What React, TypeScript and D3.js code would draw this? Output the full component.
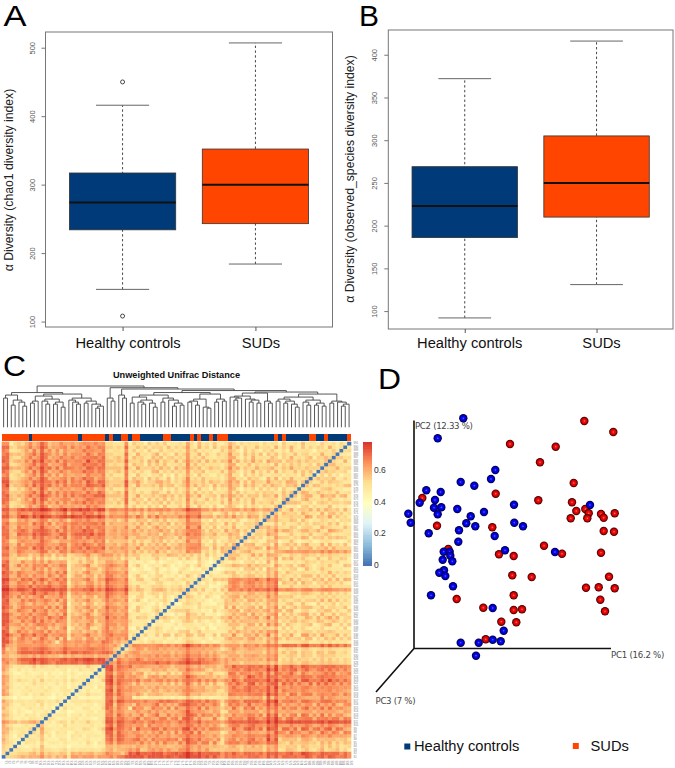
import * as d3 from 'd3'
import { useEffect, useRef } from 'react'

const groups = ['Healthy controls', 'SUDs']
const groupColors = ['#003a78', '#ff4500']

// whisker low, q1, median, q3, whisker high
const chao1Healthy = [147, 234, 274, 317, 416]
const chao1Suds = [184, 243, 300, 352, 507]
const chao1Outliers = [108, 450]
const chao1Ticks = [100, 200, 300, 400, 500]

const observedHealthy = [92, 186, 223, 269, 372]
const observedSuds = [131, 210, 250, 305, 416]
const observedTicks = [100, 150, 200, 250, 300, 350, 400]

// H = healthy, S = SUDs, sample order as in the dendrogram
const sampleGroups =
  'SSSSSSSHSS SSSSSSSSSS HSSSSSSHSH HSSHSSHHHH HHSSHHHHHS HSHHSHSSSH HHHHHHHHHH HSHSHHHHHH SSHHSHHHHH S'

// distance levels 0-9, lower triangle, row j holds samples 0..j-1
const distanceRows = [
  '',
  '1',
  '21',
  '322',
  '3221',
  '42110',
  '321021',
  '4311121',
  '33211102',
  '422101211',
  '5434233443',
  '3221010211 0',
  '4321102110 12',
  '3321210011 021',
  '4211101201 1010',
  '3321021110 20110',
  '4221110102 101120',
  '2110100011 0100110',
  '5421012011 21101011',
  '5311011201 021101120',
  '4421102101 1021011011',
  '5321010121 1101201010 1',
  '4311211010 2011101021 01',
  '5421101102 1012011010 110',
  '4321012101 1021101121 0101',
  '5311201011 0112011010 21021',
  '4321110120 1101210101 102110',
  '5645677887 8877887888 7888888',
  '6555788898 8878788889 89998986',
  '4434455454 5545434454 454545453',
  '6445788878 8787778788 7877777874',
  '7355788778 8877678877 7778877764 3',
  '7444555545 5544445545 4554555545 31',
  '8865665566 6565156656 6566657764 543',
  '8754675635 7645736145 5356454765 6561',
  '7865476575 5746565254 4564534675 56502',
  '8735756456 6475655144 5344635765 465210',
  '7845575664 5746467135 4563345856 5561031',
  '8756646457 6657455243 5465434766 46521013',
  '8865475675 7565765245 4446354765 565310120',
  '7745656465 5476575144 5355443856 4651022301',
  '8865465746 6745647243 4564345765 5562102310 2',
  '7645765475 5746466134 5346354756 4650230102 31',
  '8764576656 6475747235 4564534866 5561032102 201',
  '8855675465 5756467144 5355343765 4652102310 2031',
  '7845475765 5765746235 4564434756 5560231021 02310',
  '8765746456 7456575144 5345354865 4651023101 203102',
  '8866576786 6867586256 5566654876 5672213123 2132312',
  '9977887687 7889787466 6768675987 6783233213 34313232',
  '8856776857 6787677346 5567564876 5673231223 232132312',
  '8745766475 6476576145 4356453866 5662102310 2310221031',
  '8856476746 7646756244 4564354876 5561023102 2012301201 1',
  '7745756465 5476475135 5345353775 4650231021 2301120132 02',
  '8765765546 6465757234 3564434766 5561102310 2012103102 210',
  '7845465575 6475566144 4355634765 4652012102 3102102310 1032',
  '8735746466 5746576134 4563344676 5560231012 0132010120 23101',
  '7845475565 6476565233 5345343665 4561201310 2012310201 032101',
  '5534223142 4232312232 3243243443 4232131212 3120213132 1312023',
  '6633544233 5342434223 3453345553 4342321213 2224432313 12031211',
  '6645765546 7746476576 6756865445 4553524343 5342434365 652323143',
  '6735666476 7565756466 7576767354 4643352434 2435344356 6533142423',
  '6644746657 7656576467 6866576445 3553425343 4352435456 6631342232 4',
  '7634676656 8765465677 6755867354 4543524335 3524343475 5623141324 32',
  '6745656476 7566757467 7576776445 4563344534 3543425356 6532433114 243',
  '7744877687 8876687578 8879787455 4654543454 4254454576 7643453325 3413',
  '6635676467 7765746566 6867566345 3543524343 3534243456 6531423142 24231',
  '7644756556 8656467576 7576776445 4563353424 5342434375 5723241322 413232',
  '6745666476 7574656677 6767867354 4543425353 2435243466 6532433142 3213324',
  '6634657546 7746575467 7676676445 3563344524 4352434475 5523142323 14213242',
  '7755798687 9887788898 8788897465 5665465364 6454546576 6744525343 534253414',
  '6745766577 7765667476 6867575355 4563425344 2534454466 6633412342 3142433142',
  '7756787878 9987789788 9887898466 5665646465 5656555687 7655454534 4545454354 3',
  '6724435746 8746575665 6576865323 3362413242 3152324263 1423242135 3214233142 24',
  '7623345675 7465746567 6857676332 4371232413 2414233252 4231322415 2323142332 413',
  '7744246475 8746566746 5677766323 2472423142 3241423262 3124232316 1423242132 3214',
  '6733435746 8765646575 6756877333 3361241323 1342413253 2412331425 3241323142 24132',
  '7634345675 8575756676 6576686323 4372313224 3214232352 4132413225 1423213242 312423',
  '7723435746 9746575756 6857566342 2363412323 2413242353 1423142326 4213231423 2314213',
  '6824346475 7675646566 6577767323 3372142323 1423412352 4132142325 2314232141 42313242',
  '8844456577 8776867576 7587687433 3483453233 4534232463 3242534236 3524243335 324254423',
  '7723345746 8746566575 6867566323 3361423142 3214132362 3142323125 4231423114 2413242313',
  '6724435675 8575746656 6576767342 2372142313 2413142353 1423214236 2314232431 3241323242 3',
  '7633246475 8746575566 6867676323 4362313214 4132423252 3241322415 3213241323 1423214232 41',
  '7744435746 8675746765 6577676333 3372142323 1423142353 2312423126 2423214232 4123242313 232',
  '6723345675 7746567566 6867867323 2361423142 3241323262 4132323125 4132413232 1423232412 3142',
  '7624436476 8565746656 6586676332 3372213142 4132241353 2314232326 1423242314 3241322413 23213',
  '7733245746 8746575675 6767867323 4361423214 2413423252 3142213225 4213142231 4213242313 413242',
  '6744435675 8765646566 6576576332 2372142313 4132142352 2413214226 2314232413 2323214223 1324213',
  '7623346475 8575746656 6867767323 3362413242 1423423253 4132312425 3214232142 4123142323 21323142',
  '7733445746 8746566575 6576676332 3372232413 2314232352 1423142326 2413214232 1423242131 323214213',
  '6614435746 8746575665 6766866332 2361423142 3241323253 1423242125 3142323141 3214213242 2313213142',
].map((row) => row.replace(/ /g, ''))

// stripes that run through a whole sample, as level offsets
const sampleStripes = [
  1, 1, 0, -1, 0, 0, 0, 0, 1, 0,
  1, 0, 0, -1, 0, 0, 1, -1, 0, 0,
  0, 0, 1, 0, -1, 0, 1, 0, 0, 0,
  0, -1, 1, 0, 0, 1, 0, -1, 0, 0,
  1, 0, 0, 0, -1, 0, 0, 0, 1, 0,
  0, 1, 0, 0, -1, 0, -1, 0, 1, 0,
  1, 0, -1, 0, 0, 1, 0, 0, -1, 1,
  0, 1, -1, 0, 0, 1, 0, -1, 1, 0,
  0, -1, 0, 1, 0, 1, 0, 0, -1, 0,
  -1,
]

const heatStops = [0, 0.13, 0.26, 0.39, 0.52, 0.65, 0.78]
const heatColors = ['#4575b4', '#91bfdb', '#e0f3f8', '#ffffbf', '#fee090', '#fc8d59', '#d73027']
const heatTicks = [0, 0.2, 0.4, 0.6]

// dendrogram merges as [height, left, right], 0 is a leaf
const groupOne = [32, [29, 0, 0], [27, [22, 0, 0], [25, 0, [21, 0, 0]]]]
const groupTwo = [31, [26, [24, 0, 0], 0], [28, [26, 0, [23, 0, 0]], [25, [23, 0, 0], [20, 0, 0]]]]
const groupThree = [29, [27, 0, [25, 0, [23, 0, 0]]], [26, [24, 0, 0], [23, 0, [21, [19, 0, 0], 0]]]]
const leftClade = [34.5, groupOne, [33, groupTwo, groupThree]]

const cladeA = [29, 0, [26, 0, 0]]
const cladeB = [32, 0, [29, 0, 0]]
const cladeC1 = [30, [24, 0, 0], [27, [25, 0, [23, 0, 0]], [24, 0, [20, 0, 0]]]]
const cladeC2 = [29, [25, 0, 0], [27, 0, [24, [21, 0, 0], [22, 0, 0]]]]
const cladeC3 = [33, [28, [26, [25, 0, 0], [22, 0, 0]], [20, 0, [19, 0, 0]]], [28, [25, 0, 0], [26, 0, 0]]]
const cladeD1 = [
  34,
  [31, [30, 0, [29, [27, 0, 0], 0]], [28, 0, [27, [25, 0, 0], [24, 0, 0]]]],
  [26, 0, [24, 0, 0]],
]
const cladeD2 = [
  33,
  [
    30,
    [28, [26, 0, 0], [26, [24, 0, 0], [23, 0, [20, 0, 0]]]],
    [27, [25, 0, [22, 0, 0]], [24, [22, 0, 0], [21, 0, 0]]],
  ],
  [26, [24, 0, 0], [25, 0, [23, [21, 0, 0], 0]]],
]
const rightClade = [
  39.3,
  cladeA,
  [38, cladeB, [36.5, [34.5, [32, cladeC1, cladeC2], cladeC3], [35, cladeD1, cladeD2]]],
]
const dendrogram = [41, leftClade, rightClade]

// PCoA scores, in units along the PC1 and PC2 axes
const healthyPc1 = [
  49.3, 23.7, 81.3, 77, 46.7, 60.3, 12.3, 26.7, 21, 5.7, 20, 27.3, 43.3, 23.7, -5.7, -3.3, 70, 56.7, 52.3, 61.3, 45,
  14.7, 100, 100.3, 109, 80.7, 44.3, 176, 91, 141, 29.7, 35.7, 36.3, 28.7, 38.3, 30, 25.3, 31.3, 39, 17, 78.7, 89.7,
  78.7, 86.7, 64.7, 46.7, 62,
]
const healthyPc2 = [
  230.2, 210.2, 178.5, 169.5, 166.5, 162.8, 158.2, 156.5, 148.5, 145.8, 140.8, 141.2, 139.5, 134.2, 134.8, 125.8,
  136.5, 132.2, 125.2, 122.2, 118.2, 115.2, 143.8, 125.8, 122.2, 112.5, 106.8, 143.5, 98.2, 96.5, 96.8, 96.8, 92.8,
  88.8, 87.2, 78.2, 75.8, 72.5, 62.2, 53.2, 40.5, 17.8, 8.8, 7.2, 5.8, 5.8, -7.2,
]
const sudsPc1 = [
  170.3, 199.3, 96, 141.7, 126, 159.7, 81.7, 124.3, 158, 162.3, 171.3, 174.7, 173.3, 156.7, 187, 189.7, 200.7, 8.3, 23,
  78.3, 189.7, 200, 130, 34.3, 85, 99.7, 148, 187, 98.3, 117.7, 195, 172, 184.7, 200.7, 99.7, 186.3, 42.7, 191, 69.3,
  99.7, 108, 87.3, 102.3, 71.7,
]
const sudsPc2 = [
  227.5, 216.5, 204.5, 201.8, 186.2, 165.5, 154.8, 148.2, 146.2, 137.5, 139.5, 135.2, 130.2, 130.2, 134.5, 130.8, 135.2,
  150.5, 122.8, 121.2, 117.5, 116.8, 102.8, 99.5, 94.2, 92.5, 94.8, 95.8, 73.2, 71.5, 71.8, 60.8, 61.2, 60.2, 53.2,
  48.8, 49.5, 37.2, 40.8, 38.5, 39.2, 26.8, 26.2, 9.2,
]

const FONT = '"Liberation Sans", Arial, sans-serif'

const panelLetter = (svg, letter, x, y, length) => {
  svg
    .append('text')
    .attr('x', x)
    .attr('y', y)
    .attr('font-size', 29)
    .attr('fill', '#000')
    .attr('textLength', length)
    .attr('lengthAdjust', 'spacingAndGlyphs')
    .text(letter)
}

const drawBoxplot = (svg, { left, right, top, bottom, boxes, outliers, ticks, label, labelX, labelY, catShift, catY }) => {
  const all = d3.merge([...boxes, outliers])
  const [lo, hi] = d3.extent(all)
  const pad = (hi - lo) * 0.04
  const x = d3.scaleLinear().domain([0.42, 2.58]).range([left, right])
  const y = d3.scaleLinear().domain([lo - pad, hi + pad]).range([bottom, top])

  boxes.forEach((b, i) => {
    const cx = x(i + 1)
    const hw = x(1.4) - x(1)
    const g = svg.append('g')
    g.append('line')
      .attr('x1', cx)
      .attr('x2', cx)
      .attr('y1', y(b[0]))
      .attr('y2', y(b[4]))
      .attr('stroke', '#333')
      .attr('stroke-width', 0.9)
      .attr('stroke-dasharray', '2.4,2.4')
    ;[b[0], b[4]].forEach((v) => {
      g.append('line')
        .attr('x1', cx - hw / 2)
        .attr('x2', cx + hw / 2)
        .attr('y1', y(v))
        .attr('y2', y(v))
        .attr('stroke', '#666')
        .attr('stroke-width', 1)
    })
    g.append('rect')
      .attr('x', cx - hw)
      .attr('width', hw * 2)
      .attr('y', y(b[3]))
      .attr('height', y(b[1]) - y(b[3]))
      .attr('fill', groupColors[i])
      .attr('stroke', '#333')
      .attr('stroke-width', 0.8)
    g.append('line')
      .attr('x1', cx - hw)
      .attr('x2', cx + hw)
      .attr('y1', y(b[2]))
      .attr('y2', y(b[2]))
      .attr('stroke', '#111')
      .attr('stroke-width', 2)
  })

  svg
    .selectAll(null)
    .data(outliers)
    .enter()
    .append('circle')
    .attr('cx', x(1))
    .attr('cy', (d) => y(d))
    .attr('r', 2)
    .attr('fill', '#fff')
    .attr('stroke', '#333')
    .attr('stroke-width', 0.9)

  svg
    .append('rect')
    .attr('x', left)
    .attr('y', top)
    .attr('width', right - left)
    .attr('height', bottom - top)
    .attr('fill', 'none')
    .attr('stroke', '#777')
    .attr('stroke-width', 1)

  const yAxis = svg
    .append('g')
    .attr('transform', `translate(${left},0)`)
    .call(d3.axisLeft(y).tickValues(ticks).tickSize(4).tickSizeOuter(0))
  yAxis.select('.domain').remove()
  yAxis.selectAll('line').attr('stroke', '#777')
  yAxis
    .selectAll('text')
    .attr('font-family', FONT)
    .attr('font-size', 7.5)
    .attr('fill', '#555')
    .attr('x', 0)
    .attr('y', 0)
    .attr('dy', 0)
    .attr('text-anchor', 'middle')
    .attr('transform', 'translate(-11,0) rotate(-90)')

  const xAxis = svg
    .append('g')
    .attr('transform', `translate(0,${bottom})`)
    .call(d3.axisBottom(x).tickValues([1, 2]).tickSize(4).tickSizeOuter(0))
  xAxis.select('.domain').remove()
  xAxis.selectAll('line').attr('stroke', '#555')
  xAxis.selectAll('text').remove()

  groups.forEach((name, i) => {
    svg
      .append('text')
      .attr('x', x(i + 1) + catShift)
      .attr('y', catY)
      .attr('text-anchor', 'middle')
      .attr('font-size', 14.7)
      .attr('fill', '#111')
      .text(name)
  })

  svg
    .append('text')
    .attr('transform', `translate(${labelX},${labelY}) rotate(-90)`)
    .attr('text-anchor', 'middle')
    .attr('font-size', 12.2)
    .attr('fill', '#222')
    .text(label)
}

const drawHeatmap = (svg) => {
  const samples = d3.range(distanceRows.length)
  const x = d3.scaleBand().domain(samples).range([1.7, 351])
  const y = d3.scaleBand().domain(samples).range([758.3, 441.7])
  const color = d3.scaleLinear().domain(heatStops).range(heatColors).clamp(true)

  const distance = (i, j) => {
    if (i === j) return 0
    const row = distanceRows[Math.max(i, j)]
    const level = row[Math.min(i, j)] ?? row[row.length - 1]
    return 0.45 + 0.032 * (+level + 0.7 * (sampleStripes[i] + sampleStripes[j]))
  }

  svg
    .append('defs')
    .append('filter')
    .attr('id', 'soft')
    .attr('x', '-1%')
    .attr('y', '-1%')
    .attr('width', '102%')
    .attr('height', '102%')
    .append('feGaussianBlur')
    .attr('stdDeviation', 0.35)

  const cells = d3.cross(samples, samples)
  svg
    .append('g')
    .attr('filter', 'url(#soft)')
    .selectAll('rect')
    .data(cells)
    .enter()
    .append('rect')
    .attr('x', (d) => x(d[0]))
    .attr('y', (d) => y(d[1]))
    .attr('width', x.bandwidth() + 0.3)
    .attr('height', y.bandwidth() + 0.3)
    .attr('fill', (d) => color(distance(d[0], d[1])))

  // sample annotation bar
  const flags = sampleGroups.replace(/ /g, '').split('')
  svg
    .append('g')
    .attr('shape-rendering', 'crispEdges')
    .selectAll('rect')
    .data(flags)
    .enter()
    .append('rect')
    .attr('x', (_, i) => x(i))
    .attr('y', 433.5)
    .attr('width', x.bandwidth())
    .attr('height', 7)
    .attr('fill', (d) => (d === 'H' ? groupColors[0] : groupColors[1]))

  // dendrogram
  const root = d3.hierarchy(dendrogram, (d) => (d === 0 ? null : d.slice(1)))
  const treeY = d3.scaleLinear().domain([0, 41]).range([427.3, 386])
  let leaf = 0
  root.eachAfter((n) => {
    if (!n.children) {
      n.px = x(leaf) + x.bandwidth() / 2
      n.h = 0
      leaf += 1
    } else {
      n.px = d3.mean(n.children, (c) => c.px)
      n.h = n.data[0]
    }
  })
  const tree = d3.path()
  root.each((n) => {
    if (!n.children) return
    const [a, b] = n.children
    tree.moveTo(a.px, treeY(a.h))
    tree.lineTo(a.px, treeY(n.h))
    tree.lineTo(b.px, treeY(n.h))
    tree.lineTo(b.px, treeY(b.h))
  })
  svg
    .append('path')
    .attr('d', tree.toString())
    .attr('fill', 'none')
    .attr('stroke', '#444')
    .attr('stroke-width', 0.9)

  svg
    .append('text')
    .attr('x', 176.5)
    .attr('y', 378)
    .attr('text-anchor', 'middle')
    .attr('font-size', 9.2)
    .attr('font-weight', 'bold')
    .attr('fill', '#111')
    .text('Unweighted Unifrac Distance')

  // sample ids, far too small to read
  const ids = samples.map((i) => `S${i + 1}`)
  svg
    .append('g')
    .selectAll('text')
    .data(ids)
    .enter()
    .append('text')
    .attr('x', 353.5)
    .attr('y', (_, i) => y(i) + y.bandwidth() / 2 + 1)
    .attr('font-size', 2.6)
    .attr('fill', '#777')
    .text((d) => d)
  svg
    .append('g')
    .selectAll('text')
    .data(ids)
    .enter()
    .append('text')
    .attr('transform', (_, i) => `translate(${x(i) + x.bandwidth() / 2 + 1},760.5) rotate(90)`)
    .attr('font-size', 2.6)
    .attr('fill', '#777')
    .text((d) => d)

  // colour key
  const keyY = d3.scaleLinear().domain([0, 0.78]).range([565, 441.7])
  const keySteps = d3.range(0, 0.78, 0.01)
  svg
    .append('g')
    .attr('shape-rendering', 'crispEdges')
    .selectAll('rect')
    .data(keySteps)
    .enter()
    .append('rect')
    .attr('x', 363.3)
    .attr('width', 8.8)
    .attr('y', (d) => keyY(d + 0.01))
    .attr('height', (d) => keyY(d) - keyY(d + 0.01) + 0.5)
    .attr('fill', (d) => color(d))
  svg
    .append('g')
    .selectAll('text')
    .data(heatTicks)
    .enter()
    .append('text')
    .attr('x', 374)
    .attr('y', (d) => keyY(d) + 3)
    .attr('font-size', 8.5)
    .attr('fill', '#333')
    .text((d) => d)
}

const drawPcoa = (svg) => {
  const x = d3.scaleLinear().domain([0, 197]).range([414, 611])
  const y = d3.scaleLinear().domain([0, 228]).range([648.5, 420.5])

  const defs = svg.append('defs')
  const addGradient = (id, stops) => {
    const grad = defs.append('radialGradient').attr('id', id)
    stops.forEach(([offset, color]) => {
      grad.append('stop').attr('offset', offset).attr('stop-color', color)
    })
  }
  addGradient('ballBlue', [
    ['0%', '#7a7aff'],
    ['25%', '#0a0af0'],
    ['62%', '#0000d8'],
    ['100%', '#00002a'],
  ])
  addGradient('ballRed', [
    ['0%', '#ff8a8a'],
    ['25%', '#f01010'],
    ['62%', '#d80000'],
    ['100%', '#2a0000'],
  ])

  const axes = d3.path()
  axes.moveTo(x(0), y(228))
  axes.lineTo(x(0), y(0))
  axes.lineTo(x(197), y(0))
  axes.moveTo(x(0), y(0))
  axes.lineTo(x(-38), y(-43.5))
  svg
    .append('path')
    .attr('d', axes.toString())
    .attr('fill', 'none')
    .attr('stroke', '#111')
    .attr('stroke-width', 1.6)

  const drawPoints = (pc1, pc2, fill) => {
    svg
      .append('g')
      .selectAll('circle')
      .data(pc1)
      .enter()
      .append('circle')
      .attr('cx', (d) => x(d))
      .attr('cy', (_, i) => y(pc2[i]))
      .attr('r', 4.2)
      .attr('fill', `url(#${fill})`)
  }
  drawPoints(sudsPc1, sudsPc2, 'ballRed')
  drawPoints(healthyPc1, healthyPc2, 'ballBlue')

  const axisLabel = (text, px, py) => {
    svg
      .append('text')
      .attr('x', px)
      .attr('y', py)
      .attr('font-size', 8.6)
      .attr('fill', '#444')
      .attr('font-family', '"DejaVu Sans", sans-serif')
      .attr('textLength', text.length * 4.45)
      .text(text)
  }
  axisLabel('PC2 (12.33 %)', 415, 429)
  axisLabel('PC1 (16.2 %)', 611, 657.5)
  axisLabel('PC3 (7 %)', 375.5, 704)

  // legend
  svg.append('rect').attr('x', 404.3).attr('y', 743.5).attr('width', 6).attr('height', 6).attr('fill', groupColors[0])
  svg.append('rect').attr('x', 572.8).attr('y', 743).attr('width', 6).attr('height', 6).attr('fill', groupColors[1])
  svg.append('text').attr('x', 414).attr('y', 751).attr('font-size', 14.7).attr('fill', '#111').text(groups[0])
  svg.append('text').attr('x', 590.5).attr('y', 751).attr('font-size', 14.7).attr('fill', '#111').text(groups[1])
}

const App = () => {
  const ref = useRef(null)

  useEffect(() => {
    const svg = d3.select(ref.current)
    svg.selectAll('*').remove()
    svg.attr('font-family', FONT)

    drawBoxplot(svg, {
      left: 45.5,
      right: 332.5,
      top: 32,
      bottom: 327,
      boxes: [chao1Healthy, chao1Suds],
      outliers: chao1Outliers,
      ticks: chao1Ticks,
      label: 'α Diversity (chao1 diversity index)',
      labelX: 13,
      labelY: 180,
      catShift: 5.5,
      catY: 348,
    })
    drawBoxplot(svg, {
      left: 388.3,
      right: 673,
      top: 30,
      bottom: 329,
      boxes: [observedHealthy, observedSuds],
      outliers: [],
      ticks: observedTicks,
      label: 'α Diversity (observed_species diversity index)',
      labelX: 354,
      labelY: 179,
      catShift: 5,
      catY: 348,
    })
    drawHeatmap(svg)
    drawPcoa(svg)

    panelLetter(svg, 'A', 3.5, 26, 23)
    panelLetter(svg, 'B', 359, 26, 20)
    panelLetter(svg, 'C', 3, 376, 23)
    panelLetter(svg, 'D', 378, 389, 23)
  }, [])

  return (
    <svg
      ref={ref}
      width={675}
      height={768}
      style={{ position: 'absolute', left: 0, top: 0, background: '#fff' }}
    ></svg>
  )
}

export default App
